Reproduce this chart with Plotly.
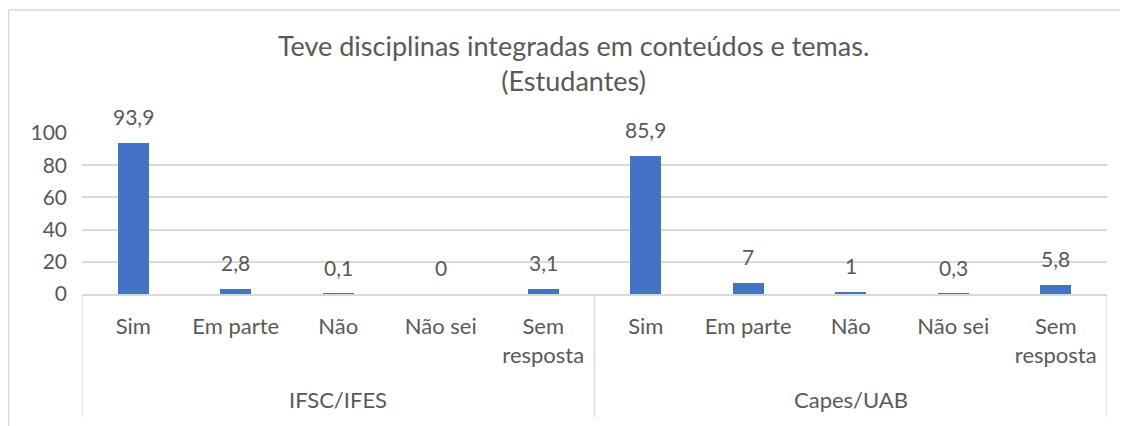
import plotly.graph_objects as go

# data
grupos = ["IFSC/IFES", "Capes/UAB"]
categorias = ["Sim", "Em parte", "Não", "Não sei", "Sem<br>resposta"]
ifsc_ifes = [93.9, 2.8, 0.1, 0, 3.1]
capes_uab = [85.9, 7, 1, 0.3, 5.8]

valores = ifsc_ifes + capes_uab
rotulos = categorias + categorias
xs = list(range(len(valores)))

cinza = "#595959"
linha = "#D9D9D9"
azul = "#4472C4"


def fmt(v):
    s = ("%g" % v)
    return s.replace(".", ",")


fig = go.Figure()
fig.add_trace(go.Bar(x=xs, y=valores, width=0.3, marker=dict(color=azul, line=dict(width=0)),
                     hoverinfo="y"))

# data labels
for x, v in zip(xs, valores):
    fig.add_annotation(x=x, y=v, text=fmt(v), showarrow=False, yanchor="bottom", yshift=12,
                       font=dict(size=21, color=cinza, family="Lato"))

# group labels
n = len(categorias)
for i, g in enumerate(grupos):
    fig.add_annotation(x=i * n + (n - 1) / 2, y=-0.658, yref="paper", yanchor="middle",
                       text=g, showarrow=False, font=dict(size=22, color=cinza, family="Lato"))

# dividers
for xv in [-0.5, n - 0.5, 2 * n - 0.5]:
    fig.add_shape(type="line", x0=xv, x1=xv, y0=0, y1=-0.764, yref="paper",
                  line=dict(color=linha, width=1.5))

# chart border
fig.add_shape(type="rect", xref="paper", yref="paper", x0=-0.0717, x1=1.05, y0=-0.95, y1=1.764,
              line=dict(color=linha, width=1.5), layer="below")

# page body has an 8px margin, so the figure is 8px smaller than the window
fig.update_layout(
    width=1120, height=418,
    margin=dict(l=74, r=21, t=125, b=132),
    paper_bgcolor="white", plot_bgcolor="white",
    font=dict(family="Lato", color=cinza, size=21),
    title=dict(text="Teve disciplinas integradas em conteúdos e temas.<br>(Estudantes)",
               x=0.505, xanchor="center", y=0.885, yanchor="middle",
               font=dict(size=27, color=cinza, family="Lato")),
    showlegend=False,
    bargap=0,
)
fig.update_xaxes(range=[-0.5, 2 * n - 0.5], tickvals=xs, ticktext=rotulos, showgrid=False,
                 showline=True, linecolor=linha, linewidth=1.5, ticks="", ticklabelstandoff=12,
                 tickfont=dict(size=22, color=cinza), zeroline=False, automargin=False)
fig.update_yaxes(range=[0, 100], dtick=20, showgrid=True, gridcolor=linha, gridwidth=1.5,
                 zeroline=False, ticks="", ticklabelstandoff=14, tickfont=dict(size=21, color=cinza),
                 automargin=False)

fig.write_html("out.html")
